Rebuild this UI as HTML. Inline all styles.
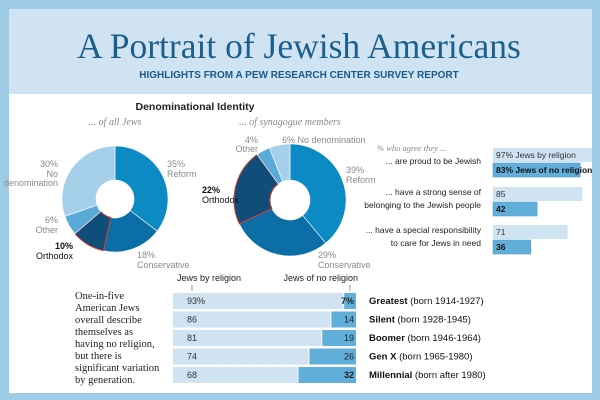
<!DOCTYPE html>
<html><head><meta charset="utf-8"><style>
body{margin:0;width:600px;height:400px;overflow:hidden;background:#fff}
svg{display:block}
.s{font-family:"Liberation Sans",sans-serif}
.g{fill:#8a8a8a;font-size:9px}
</style></head><body>
<svg width="600" height="400">
<rect x="0" y="0" width="600" height="400" fill="#9ecbe5"/>
<rect x="9" y="9" width="583" height="384" fill="#fff"/>
<rect x="9" y="9" width="583" height="85" fill="#cfe3f3"/>
<text x="299" y="58" text-anchor="middle" font-family="Liberation Serif,serif" font-size="35.5" fill="#1d5f8c">A Portrait of Jewish Americans</text>
<text x="299" y="78" text-anchor="middle" class="s" font-weight="bold" font-size="10" fill="#1b5a86">HIGHLIGHTS FROM A PEW RESEARCH CENTER SURVEY REPORT</text>
<text x="195" y="110" text-anchor="middle" class="s" font-weight="bold" font-size="10.5" fill="#222">Denominational Identity</text>
<text x="115" y="125" text-anchor="middle" font-family="Liberation Serif,serif" font-style="italic" font-size="10" fill="#888">... of all Jews</text>
<text x="290" y="125" text-anchor="middle" font-family="Liberation Serif,serif" font-style="italic" font-size="10" fill="#888">... of synagogue members</text>
<g id="pies"></g>
<g class="s">
<text x="167" y="167" class="g">35%</text><text x="167" y="177" class="g">Reform</text>
<text x="58" y="167" class="g" text-anchor="end">30%</text><text x="58" y="177" class="g" text-anchor="end">No</text><text x="58" y="186" class="g" text-anchor="end">denomination</text>
<text x="58" y="223" class="g" text-anchor="end">6%</text><text x="58" y="233" class="g" text-anchor="end">Other</text>
<text x="73" y="249" font-size="9" font-weight="bold" fill="#111" text-anchor="end">10%</text><text x="73" y="259" font-size="9" fill="#111" text-anchor="end">Orthodox</text>
<text x="137" y="258" class="g">18%</text><text x="137" y="268" class="g">Conservative</text>
<text x="258" y="143" class="g" text-anchor="end">4%</text><text x="258" y="152" class="g" text-anchor="end">Other</text>
<text x="282" y="143" class="g">6% No denomination</text>
<text x="346" y="173" class="g">39%</text><text x="346" y="183" class="g">Reform</text>
<text x="202" y="193" font-size="9" font-weight="bold" fill="#111">22%</text><text x="202" y="203" font-size="9" fill="#111">Orthodox</text>
<text x="318" y="258" class="g">29%</text><text x="318" y="268" class="g">Conservative</text>
</g>
<text x="377" y="151" font-family="Liberation Serif,serif" font-style="italic" font-size="8.5" fill="#888">% who agree they ...</text>
<g id="agree" class="s"></g>
<rect x="592" y="0" width="8" height="400" fill="#9ecbe5"/>
<text x="177" y="281" class="s" font-size="9" fill="#222">Jews by religion</text>
<text x="358" y="281" class="s" font-size="9" fill="#222" text-anchor="end">Jews of no religion</text>
<line x1="192" y1="285" x2="192" y2="291" stroke="#666" stroke-width="0.7"/>
<line x1="350" y1="285" x2="350" y2="291" stroke="#666" stroke-width="0.7"/>
<g font-family="Liberation Serif,serif" font-size="10.5" fill="#222">
<text x="75" y="299">One-in-five</text><text x="75" y="311">American Jews</text><text x="75" y="323">overall describe</text><text x="75" y="335">themselves as</text><text x="75" y="347">having no religion,</text><text x="75" y="359">but there is</text><text x="75" y="371">significant variation</text><text x="75" y="383">by generation.</text>
</g>
<g id="gen" class="s"></g>
</svg>
<script>
const NS="http://www.w3.org/2000/svg";
function mk(t,a,p){const e=document.createElementNS(NS,t);for(const k in a)e.setAttribute(k,a[k]);p.appendChild(e);return e;}
const pieCats=["Reform","Conservative","Orthodox","Other","No denomination"];
const pieAll=[35,18,10,6,30];
const pieSyn=[39,29,22,4,6];
const pieColors=["#0b8ac3","#0b6ea7","#0e4e78","#5aaad7","#a6cfe9"];
function pie(vals,cx,cy,r,ri,name){
  const g=document.getElementById('pies');const tot=vals.reduce((a,b)=>a+b,0);let a0=0;
  vals.forEach((v,i)=>{const a1=a0+v/tot*2*Math.PI;
    const p=(a,rr)=>[cx+rr*Math.sin(a),cy-rr*Math.cos(a)];
    const [x0,y0]=p(a0,r),[x1,y1]=p(a1,r),[x2,y2]=p(a1,ri),[x3,y3]=p(a0,ri);const lg=a1-a0>Math.PI?1:0;
    const el=mk('path',{d:`M${x0},${y0}A${r},${r} 0 ${lg} 1 ${x1},${y1}L${x2},${y2}A${ri},${ri} 0 ${lg} 0 ${x3},${y3}Z`,fill:pieColors[i],stroke:i==2?'#e03a2e':'#fff','stroke-width':i==2?1:0.6},g);
    
    
    a0=a1;});
}
pie(pieAll,115,199,53,19,'all-jews');
pie(pieSyn,290,200,56,20,'synagogue');

const agreeLabels=[["... are proud to be Jewish"],["... have a strong sense of","belonging to the Jewish people"],["... have a special responsibility","to care for Jews in need"]];
const agreeRel=[97,85,71];
const agreeNoRel=[83,42,36];
const ag=document.getElementById('agree');const aTop=[148,187,225],ax=493,as=1.05;
agreeRel.forEach((v,i)=>{const y=aTop[i];
  let b=mk('rect',{x:ax,y:y,width:v*as,height:14,fill:'#cfe3f3'},ag);
  
  
  let b2=mk('rect',{x:ax,y:y+15,width:agreeNoRel[i]*as,height:14,fill:'#62aedb',stroke:'#4f9ccb','stroke-width':0.6},ag);
  
  
  const t1=mk('text',{x:ax+3,y:y+10,'font-size':8.5,fill:'#333'},ag);t1.textContent=i==0?v+'% Jews by religion':v;
  const t2=mk('text',{x:ax+3,y:y+25,'font-size':8.5,'font-weight':'bold',fill:'#111'},ag);t2.textContent=i==0?agreeNoRel[i]+'% Jews of no religion':agreeNoRel[i];
  const L=agreeLabels[i];L.forEach((s,j)=>{const t=mk('text',{x:481,y:(L.length==1?y+16:y+8)+j*13,'font-size':8.5,fill:'#222','text-anchor':'end'},ag);t.textContent=s;});
});

const genNames=["Greatest","Silent","Boomer","Gen X","Millennial"];
const genYears=["(born 1914-1927)","(born 1928-1945)","(born 1946-1964)","(born 1965-1980)","(born after 1980)"];
const genRel=[93,86,81,74,68];
const genNoRel=[7,14,19,26,32];
const gg=document.getElementById('gen');const gx=173,gw=183;
genRel.forEach((v,i)=>{const y=293+i*18.5;const tot=v+genNoRel[i];
  const w1=v/tot*gw;
  let r1=mk('rect',{x:gx,y:y,width:w1,height:16,fill:'#cfe3f3'},gg);
  
  
  let r2=mk('rect',{x:gx+w1+1,y:y,width:gw-w1-1,height:16,fill:'#62aedb'},gg);
  
  
  const t=mk('text',{x:gx+14,y:y+11,'font-size':9,fill:'#333'},gg);t.textContent=i==0?v+'%':v;
  const t2=mk('text',{x:gx+gw-2,y:y+11,'font-size':9,fill:'#222','text-anchor':'end','font-weight':(i==0||i==4)?'bold':'normal'},gg);t2.textContent=i==0?genNoRel[i]+'%':genNoRel[i];
  const l=mk('text',{x:369,y:y+11,'font-size':9.5,fill:'#111'},gg);
  const b=mk('tspan',{'font-weight':'bold'},l);b.textContent=genNames[i];
  const n=mk('tspan',{},l);n.textContent=' '+genYears[i];
});
</script>
</body></html>
